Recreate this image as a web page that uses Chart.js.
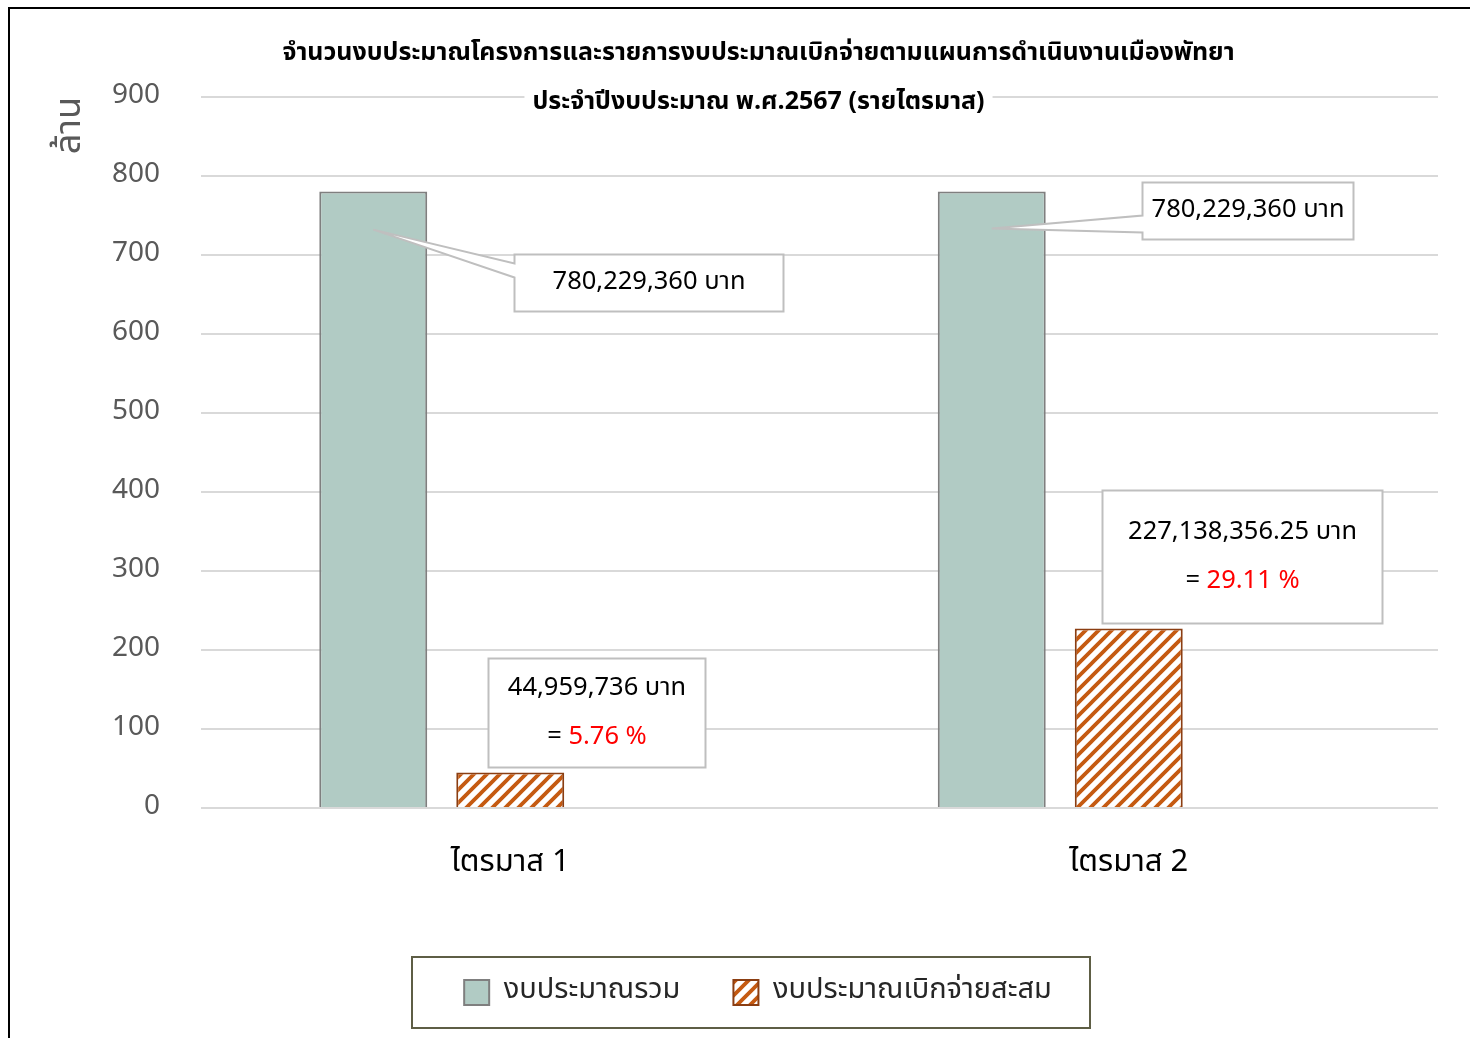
<!DOCTYPE html>
<html><head><meta charset="utf-8">
<script src="https://cdn.jsdelivr.net/npm/chart.js@4.4.1/dist/chart.umd.min.js"></script>
<style>
html,body{margin:0;padding:0;background:#fff;}
#wrap{position:relative;width:1470px;height:1038px;overflow:hidden;}
#frame{position:absolute;left:8px;top:7px;right:-4px;bottom:-4px;border-left:2px solid #000;border-top:2px solid #000;pointer-events:none;}
canvas{position:absolute;left:0;top:0;}
</style></head><body>
<div id="wrap"><canvas id="c" width="1470" height="1038"></canvas><div id="frame"></div></div>
<script>
// ---------- data ----------
const categories = ['ไตรมาส 1', 'ไตรมาส 2'];
const seriesNames = ['งบประมาณรวม', 'งบประมาณเบิกจ่ายสะสม'];
const budgetBaht = [780229360, 780229360];
const spentBaht = [44959736, 227138356.25];
const yTickValues = [0, 100, 200, 300, 400, 500, 600, 700, 800, 900];
const titleLines = ['จำนวนงบประมาณโครงการและรายการงบประมาณเบิกจ่ายตามแผนการดำเนินงานเมืองพัทยา', 'ประจำปีงบประมาณ พ.ศ.2567 (รายไตรมาส)'];
const yAxisTitle = 'ล้าน';
const unitText = 'บาท';

// ---------- layout / style ----------
const FONT = '"Noto Sans Thai", "Noto Sans", "DejaVu Sans", sans-serif';
const PLOT = { left: 201, right: 1438, top: 97, bottom: 808 };
const PAD_LEFT = 78, PAD_BOTTOM = 21;
const totalCallouts = [
  { dx: 141, dy: 62, w: 269, h: 57, g1: 9, g2: 23, tipDy: 38 },
  { dx: 150, dy: -10, w: 211, h: 57, g1: 33, g2: 50, tipDy: 37 }
];
const spentCallouts = [
  { dx: -22, dy: -114.5, w: 217, h: 109 },
  { dx: -27, dy: -138.6, w: 280, h: 133 }
];

const toMillions = v => v / 1e6;
const fmtBaht = v => (Number.isInteger(v)
  ? v.toLocaleString('en-US')
  : v.toLocaleString('en-US', { minimumFractionDigits: 2, maximumFractionDigits: 2 })) + ' ' + unitText;

function hatch() {
  const s = 13;
  const cv = document.createElement('canvas');
  cv.width = s; cv.height = s;
  const g = cv.getContext('2d');
  g.fillStyle = '#ffffff'; g.fillRect(0, 0, s, s);
  g.strokeStyle = '#c55a11'; g.lineWidth = 3.8; g.lineCap = 'square';
  g.beginPath();
  g.moveTo(-2, s + 2); g.lineTo(s + 2, -2);
  g.moveTo(-2, 2); g.lineTo(2, -2);
  g.moveTo(s - 2, s + 2); g.lineTo(s + 2, s - 2);
  g.stroke();
  return g.createPattern(cv, 'repeat');
}
const ctx0 = document.getElementById('c').getContext('2d');
const hatchFill = hatch();

const titlePlugin = {
  id: 'twoLineTitle',
  beforeDatasetsDraw(chart) {
    const ctx = chart.ctx;
    ctx.save();
    ctx.font = 'bold 25px ' + FONT;
    ctx.textAlign = 'center';
    ctx.textBaseline = 'middle';
    const cx = 758.5, ys = [55, 104];
    titleLines.forEach((t, i) => {
      const w = ctx.measureText(t).width;
      ctx.fillStyle = '#ffffff';
      ctx.fillRect(cx - w / 2 - 8, ys[i] - 18, w + 16, 36);
      ctx.fillStyle = '#000000';
      ctx.fillText(t, cx, ys[i]);
    });
    ctx.restore();
  }
};

const calloutPlugin = {
  id: 'callouts',
  afterDatasetsDraw(chart) {
    const ctx = chart.ctx;
    const m0 = chart.getDatasetMeta(0), m1 = chart.getDatasetMeta(1);
    ctx.save();
    ctx.lineWidth = 2;
    ctx.strokeStyle = '#bfbfbf';
    ctx.font = '25.5px ' + FONT;
    ctx.textBaseline = 'middle';
    totalCallouts.forEach((c, i) => {
      const bar = m0.data[i];
      const L = Math.round(bar.x + c.dx) + 0.5, T = Math.round(bar.y + c.dy) + 0.5;
      const R = L + c.w, B = T + c.h;
      const tx = bar.x, ty = bar.y + c.tipDy;
      ctx.beginPath();
      ctx.moveTo(L, T); ctx.lineTo(R, T); ctx.lineTo(R, B); ctx.lineTo(L, B);
      ctx.lineTo(L, T + c.g2); ctx.lineTo(tx, ty); ctx.lineTo(L, T + c.g1); ctx.closePath();
      ctx.fillStyle = '#ffffff'; ctx.fill(); ctx.stroke();
      ctx.fillStyle = '#000000'; ctx.textAlign = 'center';
      ctx.fillText(fmtBaht(budgetBaht[i]), (L + R) / 2, (T + B) / 2 + 1);
    });
    spentCallouts.forEach((c, i) => {
      const bar = m1.data[i];
      const L = Math.round(bar.x + c.dx) + 0.5, T = Math.round(bar.y + c.dy) + 0.5;
      const R = L + c.w, B = T + c.h;
      ctx.beginPath(); ctx.rect(L, T, c.w, c.h);
      ctx.fillStyle = '#ffffff'; ctx.fill(); ctx.stroke();
      const cx = (L + R) / 2, cy = (T + B) / 2 + 1;
      ctx.textAlign = 'center'; ctx.fillStyle = '#000000';
      ctx.fillText(fmtBaht(spentBaht[i]), cx, cy - 24.5);
      const pct = (spentBaht[i] / budgetBaht[i] * 100).toFixed(2) + ' %';
      const a = '= ', wa = ctx.measureText(a).width, wb = ctx.measureText(pct).width;
      const x0 = cx - (wa + wb) / 2;
      ctx.textAlign = 'left';
      ctx.fillStyle = '#000000'; ctx.fillText(a, x0, cy + 24.5);
      ctx.fillStyle = '#ff0000'; ctx.fillText(pct, x0 + wa, cy + 24.5);
    });
    ctx.restore();
  }
};

const legendBoxPlugin = {
  id: 'legendBox',
  afterDraw(chart) {
    const hb = chart.legend && chart.legend.legendHitBoxes;
    if (!hb || !hb.length) return;
    const first = hb[0], last = hb[hb.length - 1];
    const cy = first.top + first.height / 2;
    const ctx = chart.ctx;
    ctx.save();
    ctx.strokeStyle = '#5e5e45'; ctx.lineWidth = 2;
    const l = Math.round(first.left - 52), r = Math.round(last.left + last.width + 38);
    ctx.strokeRect(l, Math.round(cy - 35.5), r - l, 71);
    ctx.restore();
  }
};

new Chart(ctx0, {
  type: 'bar',
  data: {
    labels: categories,
    datasets: [
      { label: seriesNames[0], data: budgetBaht.map(toMillions), backgroundColor: '#b1cbc4', borderColor: '#7f7f7f', borderWidth: 2 },
      { label: seriesNames[1], data: spentBaht.map(toMillions), backgroundColor: hatchFill, borderColor: '#8b3e12', borderWidth: 2 },
      { label: '', data: categories.map(() => null), backgroundColor: 'rgba(0,0,0,0)' }
    ]
  },
  options: {
    responsive: false,
    devicePixelRatio: 1,
    animation: false,
    categoryPercentage: 0.6645,
    barPercentage: 0.788,
    layout: { padding: { left: PAD_LEFT, right: 1470 - PLOT.right, top: PLOT.top, bottom: PAD_BOTTOM } },
    plugins: {
      title: { display: false },
      tooltip: { enabled: false },
      legend: {
        position: 'bottom',
        labels: {
          filter: item => item.datasetIndex < 2,
          boxWidth: 25, boxHeight: 25, padding: 53,
          font: { size: 29, family: FONT }, color: '#262626'
        }
      }
    },
    scales: {
      x: {
        grid: { display: false, drawTicks: false },
        border: { display: false },
        ticks: { font: { size: 31, family: FONT }, color: '#000000', padding: 38 },
        afterFit: s => { s.height = 1038 - PAD_BOTTOM - s.chart.legend.height - PLOT.bottom; }
      },
      y: {
        min: 0, max: 900,
        afterBuildTicks: s => { s.ticks = yTickValues.map(v => ({ value: v })); },
        grid: { color: '#d9d9d9', lineWidth: 2, drawTicks: false },
        border: { display: false },
        ticks: { font: { size: 28, family: FONT }, color: '#595959', padding: 41 },
        title: { display: true, text: yAxisTitle, align: 'end', font: { size: 36, family: FONT }, color: '#595959', padding: { top: -27, bottom: 0 } },
        afterFit: s => { s.width = PLOT.left - PAD_LEFT; }
      }
    }
  },
  plugins: [titlePlugin, calloutPlugin, legendBoxPlugin]
});
</script>
</body></html>
